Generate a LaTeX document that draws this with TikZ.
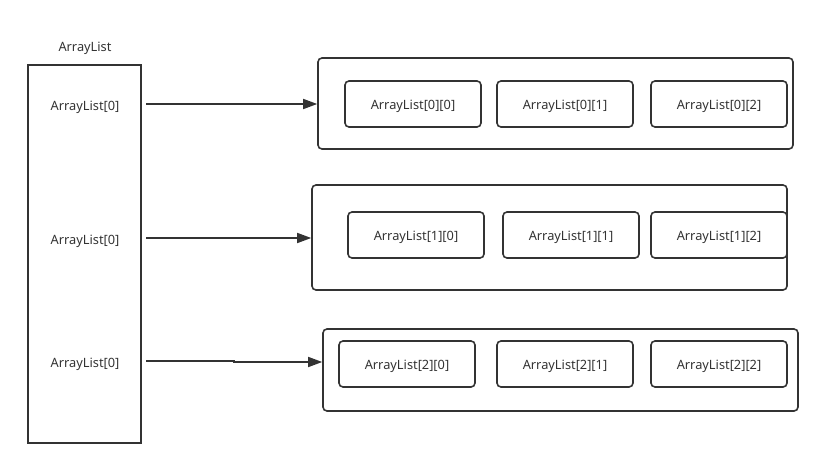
\documentclass[tikz,border=0pt]{standalone}
\usepackage{fontspec}
\setmainfont{Noto Sans}
\usetikzlibrary{arrows.meta}
\definecolor{ln}{HTML}{333333}
\definecolor{tx}{HTML}{333333}
\tikzset{
  box/.style={draw=ln, line width=1.6pt, rounded corners=4pt, inner sep=0pt},
  lbl/.style={text=tx, font=\fontsize{12.8}{15}\selectfont, inner sep=0pt, text height=11pt, text depth=0pt},
  conn/.style={draw=ln, line width=1.6pt, -{Triangle[length=14pt,width=10pt]}},
}
\begin{document}
\begin{tikzpicture}[x=1pt,y=-1pt]
\useasboundingbox (0,0) rectangle (823,469);
% left list
\node[lbl] (title) at (85,46) {ArrayList};
\draw[ln, line width=1.6pt] (28,65) rectangle (141,443);
\node[lbl] (l0) at (85,105) {ArrayList[0]};
\node[lbl] (l1) at (85,239) {ArrayList[0]};
\node[lbl] (l2) at (85,362) {ArrayList[0]};
\coordinate (s0) at (146,104);
\coordinate (s1) at (146,238);
\coordinate (s2) at (146,361);
% containers
\node[box, minimum width=475pt, minimum height=91pt] (c0) at (555.5,103.5) {};
\node[box, minimum width=475pt, minimum height=105pt] (c1) at (549.5,237.5) {};
\node[box, minimum width=475pt, minimum height=82pt] (c2) at (560.5,370) {};
% inner boxes
\foreach \n/\x/\y/\t in {a00/413/104/{ArrayList[0][0]}, a01/565/104/{ArrayList[0][1]}, a02/719/104/{ArrayList[0][2]},
  a10/416/235/{ArrayList[1][0]}, a11/571/235/{ArrayList[1][1]}, a12/719/235/{ArrayList[1][2]},
  a20/407/364/{ArrayList[2][0]}, a21/565/364/{ArrayList[2][1]}, a22/719/364/{ArrayList[2][2]}}
  \node[box, lbl, draw=ln, line width=1.6pt, rounded corners=4pt, minimum width=136pt, minimum height=46pt] (\n) at (\x,\y) {\t};
% connectors
\draw[conn] (s0) -- (c0.west |- s0);
\draw[conn] (s1) -- (c1.west |- s1);
\draw[conn] (s2) -- (234,361) -- (234,362) -- (c2.west |- 0,362);
\end{tikzpicture}
\end{document}
